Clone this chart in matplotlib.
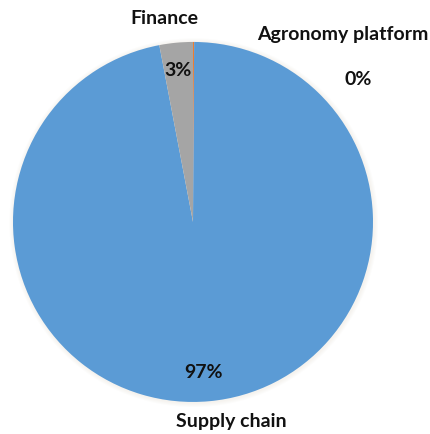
import matplotlib.pyplot as plt
from matplotlib.patches import Circle

# share of activity by segment
labels = ["Agronomy platform", "Supply chain", "Finance"]
values = [0.1, 97, 3]
colors = ["#ED7D31", "#5B9BD5", "#A5A5A5"]

# label anchors (data units, pie radius = 1)
name_pos = [(0.833, 1.039), (0.211, -1.111), (-0.161, 1.133)]
pct_pos = [(0.917, 0.794), (0.061, -0.839), (-0.083, 0.844)]

plt.rcParams["font.family"] = ["Lato", "DejaVu Sans"]

fig = plt.figure(figsize=(4.31, 4.34), dpi=100)
ax = fig.add_axes([0, 0, 1, 1])

# soft halo around the pie
for i in range(4):
    ax.add_patch(Circle((0.004, -0.004), 1.0 + 0.006 * (i + 1), color="#c8b8a0",
                        alpha=0.04, lw=0, zorder=0))

wedges, _ = ax.pie(values, colors=colors, startangle=90, counterclock=False,
                   radius=1.0, wedgeprops=dict(edgecolor="none", linewidth=0))
for w in wedges:
    w.set_zorder(1)

total = sum(values)
for lab, v, (nx, ny), (px, py) in zip(labels, values, name_pos, pct_pos):
    ax.text(nx, ny, lab, ha="center", va="center", fontsize=14,
            fontweight="bold", color="#111111", zorder=3)
    ax.text(px, py, f"{100 * v / total:.0f}%", ha="center", va="center",
            fontsize=14, fontweight="bold", color="#111111", zorder=3)

ax.set_xlim(-1.072, 1.322)
ax.set_ylim(-1.178, 1.233)
ax.set_aspect("equal")
ax.axis("off")

fig.savefig("out.png", dpi=100)
